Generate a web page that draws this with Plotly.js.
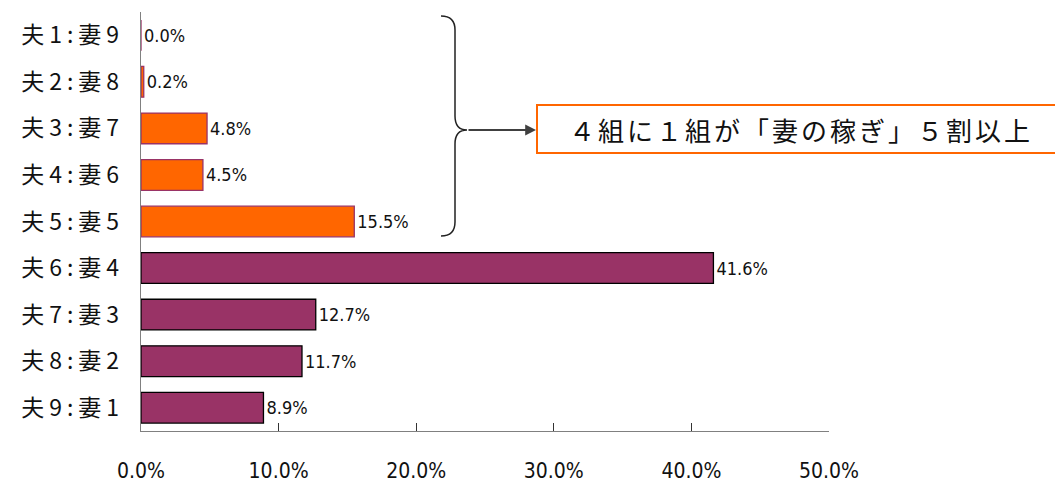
<!DOCTYPE html>
<html>
<head>
<meta charset="utf-8">
<script src="https://cdn.plot.ly/plotly-3.0.1.min.js"></script>
<style>
html,body{margin:0;padding:0;background:#fff;}
#chart{width:1055px;height:481px;}
#chart .ytick text{letter-spacing:5px;}
#chart .annotation-text{letter-spacing:3px;}
</style>
</head>
<body>
<div id="chart"></div>
<script>
const categories = ["夫1:妻9","夫2:妻8","夫3:妻7","夫4:妻6","夫5:妻5","夫6:妻4","夫7:妻3","夫8:妻2","夫9:妻1"];
const shares = [0.0, 0.2, 4.8, 4.5, 15.5, 41.6, 12.7, 11.7, 8.9];
const tickValues = [0, 10, 20, 30, 40, 50];
const tickLabels = ["0.0%","10.0%","20.0%","30.0%","40.0%","50.0%"];
const calloutText = "４組に１組が「妻の稼ぎ」５割以上";

const ORANGE = "#FF6600", PURPLE = "#993366";
const fillColors = shares.map((v,i) => i < 5 ? ORANGE : PURPLE);
const lineColors = shares.map((v,i) => i < 5 ? PURPLE : "#000000");

const L = 141, R = 829, T = 12, B = 431;
const px = x => (x - L) / (R - L);
const py = y => (B - y) / (B - T);

const bracePath = [
  `M ${px(441)} ${py(16)}`,
  `Q ${px(455)} ${py(16)} ${px(455)} ${py(30)}`,
  `L ${px(455)} ${py(116)}`,
  `Q ${px(455)} ${py(130)} ${px(467)} ${py(130)}`,
  `Q ${px(455)} ${py(130)} ${px(455)} ${py(144)}`,
  `L ${px(455)} ${py(222)}`,
  `Q ${px(455)} ${py(236)} ${px(441)} ${py(236)}`
].join(" ");

const NUMFONT = "DejaVu Sans Condensed, Liberation Sans Narrow, sans-serif";

const trace = {
  type: "bar",
  orientation: "h",
  y: categories,
  x: shares,
  marker: {color: fillColors, line: {color: lineColors, width: 1.3}},
  width: 0.66,
  text: shares.map(v => v.toFixed(1) + "%"),
  textposition: "outside",
  cliponaxis: false,
  textfont: {family: NUMFONT, size: 18, color: "#111"},
  hoverinfo: "none"
};

const layout = {
  width: 1055, height: 481,
  margin: {l: L, r: 1055 - R, t: T, b: 481 - B},
  paper_bgcolor: "#fff", plot_bgcolor: "#fff",
  showlegend: false,
  xaxis: {
    range: [0, 50], tickvals: tickValues, ticktext: tickLabels,
    ticks: "inside", ticklen: 8, tickcolor: "#333", tickwidth: 1,
    showline: true, linecolor: "#808080", linewidth: 1.3,
    showgrid: false, zeroline: false, fixedrange: true,
    ticklabelstandoff: 20,
    tickfont: {family: NUMFONT, size: 21, color: "#111"}
  },
  yaxis: {
    autorange: "reversed",
    showline: true, linecolor: "#808080", linewidth: 1.3,
    ticks: "", showgrid: false, zeroline: false, fixedrange: true,
    ticklabelstandoff: 11,
    tickfont: {family: "Noto Sans CJK JP, sans-serif", size: 23, color: "#111"}
  },
  shapes: [
    {type: "path", xref: "paper", yref: "paper", path: bracePath,
     line: {color: "#222", width: 1.5}},
    {type: "rect", xref: "paper", yref: "paper",
     x0: px(537), x1: px(1062), y0: py(105), y1: py(153),
     line: {color: ORANGE, width: 2}, fillcolor: "#fff"}
  ],
  annotations: [
    {xref: "paper", yref: "paper", x: px(801), y: py(129),
     xanchor: "center", yanchor: "middle",
     text: calloutText, showarrow: false,
     font: {family: "Noto Sans CJK JP, sans-serif", size: 26, color: "#111"}},
    {xref: "paper", yref: "paper", axref: "paper", ayref: "paper",
     x: px(536), y: py(130), ax: px(467), ay: py(130),
     text: "", showarrow: true, arrowhead: 2, arrowsize: 1.2, arrowwidth: 1.8,
     arrowcolor: "#404040"}
  ]
};

Plotly.newPlot("chart", [trace], layout, {displayModeBar: false, staticPlot: true});
</script>
</body>
</html>
